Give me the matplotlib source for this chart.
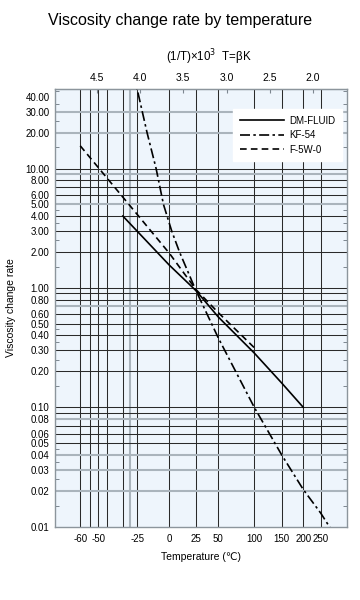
import numpy as np
import matplotlib
matplotlib.use("Agg")
import matplotlib.pyplot as plt
from matplotlib.ticker import FixedLocator, NullFormatter

plt.rcParams["font.family"] = ["Liberation Sans", "DejaVu Sans"]

# curves: temperature (C) -> viscosity change rate
dm_temp = [-35, 0, 25, 50, 100, 150, 200]
dm_rate = [4.0, 1.55, 0.95, 0.57, 0.285, 0.16, 0.10]
kf_temp = [-28, -25, -18, -11, -5, 2, 9, 25, 50, 100, 150, 200, 250, 285]
kf_rate = [62, 45, 20, 10, 5, 3, 2, 0.95, 0.38, 0.10, 0.040, 0.0205, 0.013, 0.0095]
f5_temp = [-60, -25, 0, 25, 50, 100]
f5_rate = [15.5, 4.1, 1.95, 0.97, 0.62, 0.316]

temp_ticks = [-60, -50, -25, 0, 25, 50, 100, 150, 200, 250]
temp_grid_black = [-60, -55, -50, -45, -35, -25, 0, 25, 50, 100, 150, 200, 250]
temp_grid_gray = [-30]
inv_ticks = [4.5, 4.0, 3.5, 3.0, 2.5, 2.0]
rate_ticks = [0.01, 0.02, 0.03, 0.04, 0.05, 0.06, 0.08, 0.1, 0.2, 0.3, 0.4, 0.5,
              0.6, 0.8, 1, 2, 3, 4, 5, 6, 8, 10, 20, 30, 40]
rate_grid_black = [0.05, 0.06, 0.07, 0.09, 0.1, 0.2, 0.3, 0.4, 0.5, 0.6, 0.8, 0.9,
                   1, 2, 3, 4, 6, 7, 8, 10]
rate_grid_gray = [0.02, 0.03, 0.04, 0.08, 0.7, 5, 9, 20, 30]
rate_minor = [m * d for d in (0.01, 0.1, 1, 10) for m in (1.5, 2.5, 3.5, 4.5)]


def inv(t):
    return 1000.0 / (np.asarray(t, dtype=float) + 273.15)


fig = plt.figure(figsize=(3.6, 6.0), dpi=100)
ax = fig.add_axes([0.153, 0.122, 0.811, 0.730])
ax.set_facecolor("#eef5fc")
ax.set_yscale("log")
ax.set_xlim(4.982, 1.608)
ax.set_ylim(0.01, 46.5)

for t in temp_grid_black:
    ax.axvline(inv(t), color="#2a2a2a", lw=0.75, zorder=1)
for t in temp_grid_gray:
    ax.axvline(inv(t), color="#aab4bc", lw=1.5, zorder=1)
for v in rate_grid_black:
    ax.axhline(v, color="#2a2a2a", lw=0.75, zorder=1)
for v in rate_grid_gray:
    ax.axhline(v, color="#aab4bc", lw=1.5, zorder=1)

ax.plot(inv(dm_temp), dm_rate, color="black", lw=1.2, label="DM-FLUID", zorder=3)
ax.plot(inv(kf_temp), kf_rate, color="black", lw=1.2, ls=(0, (6, 2, 1.5, 2)),
        label="KF-54", zorder=3)
ax.plot(inv(f5_temp), f5_rate, color="black", lw=1.2, ls=(0, (4, 2.5)),
        label="F-5W-0", zorder=3)

ax.xaxis.set_major_locator(FixedLocator(inv(temp_ticks)))
ax.set_xticklabels([str(t) for t in temp_ticks], fontsize=7)
ax.xaxis.set_minor_locator(FixedLocator([]))
ax.tick_params(axis="x", which="major", length=0, pad=5)

ax.yaxis.set_major_locator(FixedLocator(rate_ticks))
ax.set_yticklabels(["%.2f" % v for v in rate_ticks], fontsize=7)
ax.yaxis.set_minor_locator(FixedLocator(rate_minor))
ax.yaxis.set_minor_formatter(NullFormatter())
ax.tick_params(axis="y", which="major", length=0, pad=4)
ax.tick_params(axis="y", which="minor", direction="in", length=3, width=0.7,
               color="#7d8790", left=True, right=True)

for s in ax.spines.values():
    s.set_color("#8c959c")
    s.set_linewidth(1.0)

top = ax.secondary_xaxis("top", functions=(lambda x: x, lambda x: x))
top.set_xticks(inv_ticks)
top.set_xticklabels(["%.1f" % v for v in inv_ticks], fontsize=7.5)
top.tick_params(direction="in", length=3, width=0.8, color="#7d8790", pad=4)
top.spines["top"].set_color("#8c959c")

ax.set_xlabel("Temperature (\u2103)", fontsize=7.5, labelpad=6)
ax.set_ylabel("Viscosity change rate", fontsize=7.5, labelpad=7)
fig.text(0.58, 0.905, "(1/T)\u00d710$^3$  T=\u03b2K", fontsize=8.3, ha="center", va="center")
fig.text(0.5, 0.965, "Viscosity change rate by temperature", fontsize=11.5,
         ha="center", va="center")

leg = ax.legend(loc="upper right", bbox_to_anchor=(0.983, 0.954), borderaxespad=0,
                fontsize=7, frameon=True, fancybox=False, handlelength=4.6,
                handletextpad=0.5, borderpad=0.7, labelspacing=0.45)
leg.get_frame().set_facecolor("white")
leg.get_frame().set_edgecolor("white")
leg.get_frame().set_alpha(1)
leg.set_zorder(5)

fig.savefig("out.png", dpi=100)
